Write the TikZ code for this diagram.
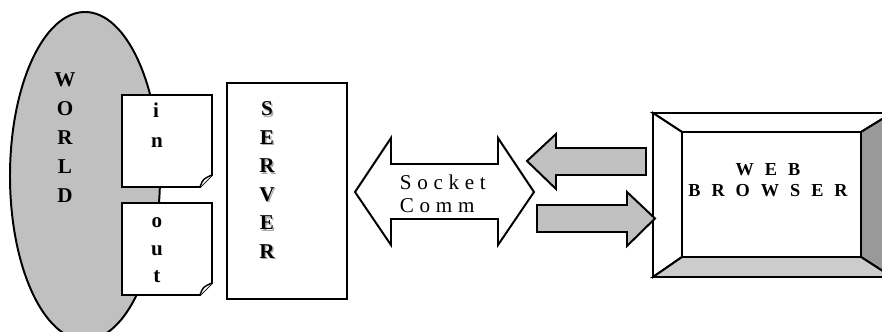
\documentclass[tikz,border=0pt]{standalone}
\usepackage{fontspec}
\setmainfont{Liberation Serif}
\definecolor{worldgray}{RGB}{192,192,192}
\definecolor{paneldark}{RGB}{153,153,153}
\definecolor{panellight}{RGB}{204,204,204}
\definecolor{shadowgray}{RGB}{170,170,170}
\newcommand\socketfont{\fontsize{15}{18}\selectfont\spaceskip=0.27em\relax}
\newcommand\screenfont{\fontsize{13}{16}\selectfont\bfseries\spaceskip=0.6em\relax}

\begin{document}
\begin{tikzpicture}[x=0.25mm, y=-0.25mm, line width=1.4pt, line join=miter,
  letter/.style={font=\fontsize{15}{18}\selectfont\bfseries, anchor=base, inner sep=0pt},
  label text/.style={font=\socketfont, anchor=base west, inner sep=0pt},
  screen text/.style={font=\screenfont, anchor=base, inner sep=0pt}]
\useasboundingbox (0,0) rectangle (882,332);

% the world
\path [fill=worldgray, draw=black] (85,176) ellipse [x radius=75, y radius=164];
\foreach \c [count=\i from 0] in {W,O,R,L,D}
  \node [letter] (world-\c) at (65,{87+29*\i}) {\c};

% in / out pages with a curled corner
\draw [fill=white] (122,95) -- (212,95) -- (212,175) -- (200,187) -- (122,187) -- cycle;
\draw [fill=white, line width=1pt] (200,187) .. controls (203,179) .. (212,175);
\draw [fill=white] (122,203) -- (212,203) -- (212,283) -- (200,295) -- (122,295) -- cycle;
\draw [fill=white, line width=1pt] (200,295) .. controls (203,287) .. (212,283);
\node [letter] (in-i) at (156,118) {i};
\node [letter] (in-n) at (157,148) {n};
\node [letter] (out-o) at (157,227) {o};
\node [letter] (out-u) at (157,255) {u};
\node [letter] (out-t) at (157,283) {t};

% server
\draw [fill=white] (227,83) rectangle (347,299);
\foreach \c [count=\i from 0] in {S,E,R,V,E,R} {
  \node [letter, text=shadowgray] (server-shadow-\i) at (268.5,{117.5+28.4*\i}) {\c};
  \node [letter] (server-\i) at (267,{116+28.4*\i}) {\c};
}

% socket link
\draw [fill=white] (355,192) -- (391,138) -- (391,164) -- (498,164) -- (498,138) -- (534,192)
  -- (498,245) -- (498,219) -- (391,219) -- (391,245) -- cycle;
\node [label text] (socket) at (399,189) {S o c k e t};
\node [label text] (comm) at (399,212) {C o m m};

% browser frame
\draw [fill=white] (653,113) -- (892,113) -- (861,132) -- (682,132) -- cycle;
\draw [fill=white] (653,113) -- (682,132) -- (682,257) -- (653,277) -- cycle;
\draw [fill=paneldark] (892,113) -- (892,277) -- (861,257) -- (861,132) -- cycle;
\draw [fill=panellight] (653,277) -- (892,277) -- (861,257) -- (682,257) -- cycle;
\draw [fill=white] (682,132) rectangle (861,257);
\node [screen text] (web) at (768,175) {W E B};
\node [screen text] (browser) at (768,197) {B R O W S E R};

% request / reply arrows
\draw [fill=worldgray] (527,161) -- (556,134) -- (556,148) -- (646,148) -- (646,175)
  -- (556,175) -- (556,189) -- cycle;
\draw [fill=worldgray] (655,218.5) -- (627,192) -- (627,205) -- (537,205) -- (537,232)
  -- (627,232) -- (627,246) -- cycle;
\end{tikzpicture}
\end{document}
